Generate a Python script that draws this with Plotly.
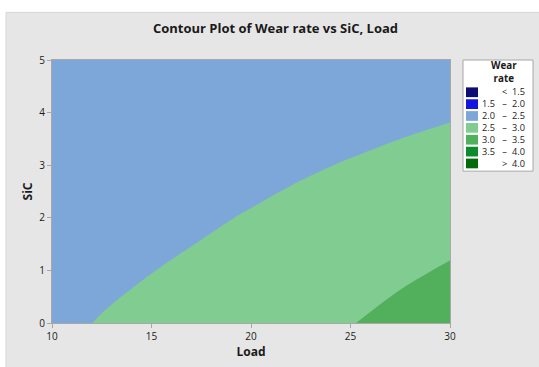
import plotly.graph_objects as go

# ---------------- data ----------------
load = [10, 12.5, 15, 17.5, 20, 22.5, 25, 27.5, 30]
sic = [0, 1, 2, 3, 4, 5]
# estimated fitted wear rate at each (SiC row, Load column)
wear_rate = [
    [2.435, 2.515, 2.589, 2.674, 2.773, 2.879, 2.986, 3.110, 3.227],
    [2.370, 2.435, 2.494, 2.564, 2.648, 2.739, 2.831, 2.936, 3.036],
    [2.305, 2.355, 2.399, 2.454, 2.523, 2.599, 2.676, 2.762, 2.845],
    [2.240, 2.275, 2.304, 2.344, 2.398, 2.459, 2.521, 2.587, 2.655],
    [2.175, 2.195, 2.209, 2.234, 2.273, 2.319, 2.366, 2.413, 2.464],
    [2.110, 2.115, 2.114, 2.124, 2.148, 2.179, 2.211, 2.239, 2.273],
]
levels = [1.5, 2.0, 2.5, 3.0, 3.5, 4.0]
x_ticks = [10, 15, 20, 25, 30]
y_ticks = [0, 1, 2, 3, 4, 5]

# ---------------- style ----------------
band_colors = ["#0C0C72", "#1515DE", "#7DA7D9", "#81CD91",
               "#52AF5C", "#0B8A2E", "#046B0A"]
FONT = "Open Sans"
TXT = "#1a1a1a"
AXIS = "#A8A8A8"
PANEL = "#E6E6E6"

W, H = 539, 367
L, R, T, B = 52, 450, 60, 325          # plot area in pixels


def xp(px):
    return (px - L) / (R - L)


def yp(py):
    return (B - py) / (B - T)


step = levels[1] - levels[0]
nb = len(band_colors)
colorscale = []
for i, col in enumerate(band_colors):
    colorscale.append([i / nb, col])
    colorscale.append([(i + 1) / nb, col])

fig = go.Figure()
fig.add_trace(go.Contour(
    x=load, y=sic, z=wear_rate,
    contours=dict(start=levels[0], end=levels[-1], size=step, coloring="fill",
                  showlines=False),
    line=dict(width=0, smoothing=1),
    colorscale=colorscale, showscale=False, hoverinfo="skip",
))

shapes = [
    dict(type="rect", xref="paper", yref="paper", layer="below",
         x0=xp(6), x1=xp(W + 5), y0=yp(12), y1=yp(H + 5),
         fillcolor=PANEL, line=dict(color="#D6D6D6", width=1)),
    dict(type="rect", xref="paper", yref="paper",
         x0=xp(463), x1=xp(533), y0=yp(60), y1=yp(172),
         fillcolor="white", line=dict(color=AXIS, width=1)),
]
annotations = [
    dict(text="<b>Wear<br>rate</b>", x=xp(504), y=yp(72.5), xref="paper", yref="paper",
         xanchor="center", yanchor="middle", showarrow=False, borderpad=0,
         font=dict(family=FONT, size=9.8, color=TXT)),
]

# legend rows: labels built from the contour levels
n = len(levels) + 1
lo_col, sym_col, hi_col = [], [], []
for i in range(n):
    if i == 0:
        lo, sym, hi = "\u00a0", "<", f"{levels[0]:.1f}"
    elif i == n - 1:
        lo, sym, hi = "\u00a0", ">", f"{levels[-1]:.1f}"
    else:
        lo, sym, hi = f"{levels[i-1]:.1f}", "–", f"{levels[i]:.1f}"
    lo_col.append(lo)
    sym_col.append(sym)
    hi_col.append(hi)

LEG_FS = 9.2
pitch = 1.3 * LEG_FS
row0 = 92.5
for i in range(n):
    cy = row0 + i * pitch
    shapes.append(dict(type="rect", xref="paper", yref="paper",
                       x0=xp(466), x1=xp(478), y0=yp(cy - 4.9), y1=yp(cy + 4.9),
                       fillcolor=band_colors[i], line=dict(width=0)))

mid = yp(row0 + (n - 1) / 2 * pitch)
common = dict(xref="paper", yref="paper", yanchor="middle", showarrow=False,
              borderpad=0, font=dict(family=FONT, size=LEG_FS, color=TXT))
annotations.append(dict(text="<br>".join(lo_col), x=xp(496), y=mid,
                        xanchor="right", align="right", **common))
annotations.append(dict(text="<br>".join(sym_col), x=xp(504), y=mid,
                        xanchor="center", align="center", **common))
annotations.append(dict(text="<br>".join(hi_col), x=xp(526), y=mid,
                        xanchor="right", align="right", **common))

axis_common = dict(showgrid=False, zeroline=False, showline=True, linecolor=AXIS,
                   linewidth=1, mirror=True, ticks="outside", ticklen=4,
                   tickcolor=AXIS, tickwidth=1,
                   tickfont=dict(family=FONT, size=10, color=TXT))

fig.update_layout(
    width=W, height=H,
    margin=dict(l=L, r=W - R, t=T, b=H - B),
    paper_bgcolor="white", plot_bgcolor=PANEL,
    title=dict(text="<b>Contour Plot of Wear rate vs SiC, Load</b>",
               x=275.5 / W, xanchor="center", y=1 - 28 / H, yanchor="middle",
               font=dict(family=FONT, size=13, color=TXT)),
    xaxis=dict(range=[load[0], load[-1]], tickvals=x_ticks,
               title=dict(text="<b>Load</b>", standoff=4,
                          font=dict(family=FONT, size=12, color=TXT)),
               **axis_common),
    yaxis=dict(range=[sic[0], sic[-1]], tickvals=y_ticks,
               title=dict(text="<b>SiC</b>", standoff=4,
                          font=dict(family=FONT, size=12, color=TXT)),
               **axis_common),
    shapes=shapes, annotations=annotations, showlegend=False,
)

fig.write_html("out.html")
